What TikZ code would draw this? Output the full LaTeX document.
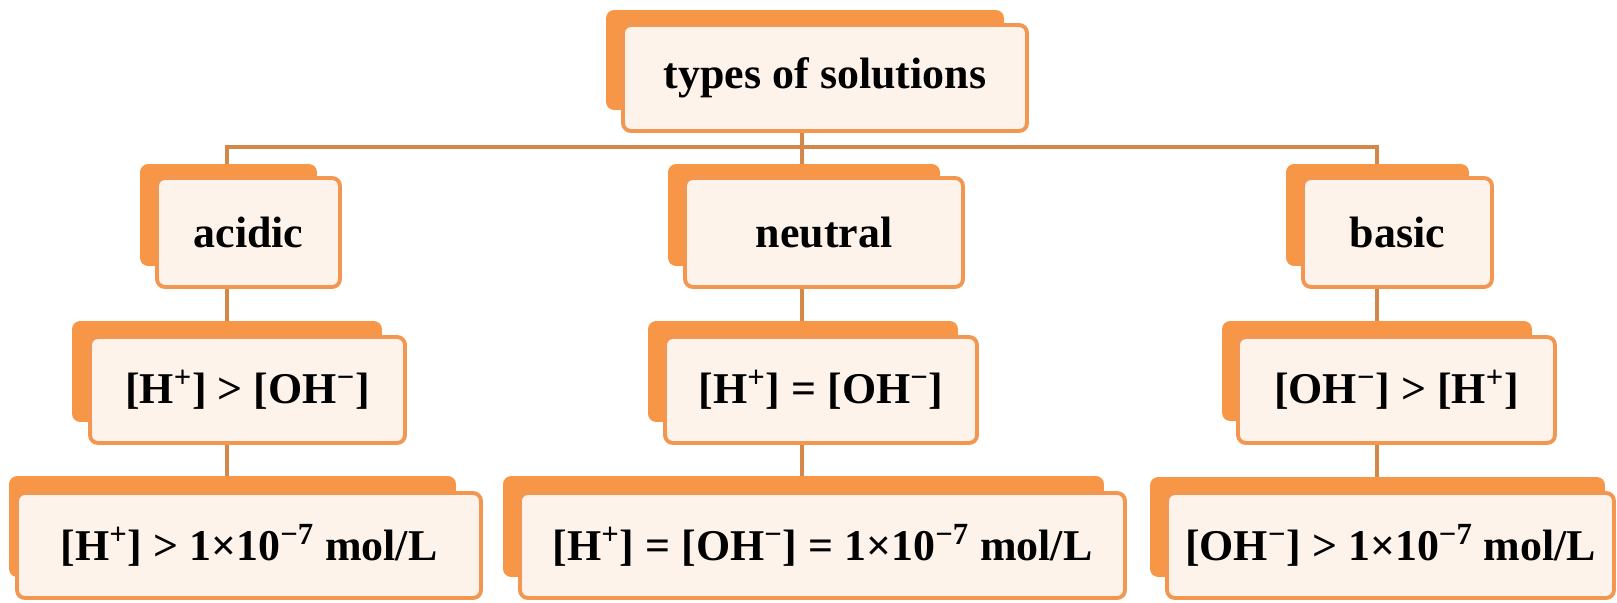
\documentclass[tikz,border=0pt]{standalone}
\usepackage{fontspec}
\setmainfont{Liberation Serif}
\usetikzlibrary{calc,backgrounds}

\pgfdeclarelayer{behind}
\pgfsetlayers{background,behind,main}

\definecolor{backorange}{HTML}{F79646}
\definecolor{frameorange}{HTML}{F29650}
\definecolor{linkorange}{HTML}{D3884A}
\definecolor{cardfill}{HTML}{FDF3EA}

\tikzset{
  card/.style={draw=frameorange, line width=2.2pt, fill=cardfill,
    rounded corners=0.16cm, inner sep=0pt,
    font=\fontsize{25}{30}\selectfont\bfseries},
  backcard/.style={fill=backorange, rounded corners=0.16cm},
  link/.style={draw=linkorange, line width=2.8pt}
}

\begin{document}
\begin{tikzpicture}[
  line cap=round,
  line join=round,
  background rectangle/.style={fill=white},
  show background rectangle,
  inner frame sep=0pt
]
  \useasboundingbox (0,0) rectangle (32.34,-12.04);

  % Опорные точки соединителей
  \coordinate (colL) at (4.54,0);
  \coordinate (colR) at (27.54,0);
  \coordinate (bar) at (16.04,-2.94);

  % Верхний блок
  \node[card, minimum width=8.08cm, minimum height=2.12cm]
    (types) at (16.5,-1.56) {types of solutions};

  % Типы растворов
  \node[card, minimum width=3.66cm, minimum height=2.18cm]
    (acidic) at (4.97,-4.65) {acidic};
  \node[card, minimum width=5.56cm, minimum height=2.18cm]
    (neutral) at (16.48,-4.65) {neutral};
  \node[card, minimum width=3.78cm, minimum height=2.18cm]
    (basic) at (27.95,-4.65) {basic};

  % Сравнение концентраций
  \node[card, minimum width=6.30cm, minimum height=2.12cm]
    (acidicH) at (4.95,-7.8) {[H\textsuperscript{+}] > [OH\textsuperscript{−}]};
  \node[card, minimum width=6.24cm, minimum height=2.12cm]
    (neutralH) at (16.42,-7.8) {[H\textsuperscript{+}] = [OH\textsuperscript{−}]};
  \node[card, minimum width=6.34cm, minimum height=2.12cm]
    (basicH) at (27.93,-7.8) {[OH\textsuperscript{−}] > [H\textsuperscript{+}]};

  % Концентрации в моль/л
  \node[card, minimum width=9.28cm, minimum height=2.1cm]
    (acidicC) at (4.98,-10.91) {[H\textsuperscript{+}] > 1×10\textsuperscript{−7} mol/L};
  \node[card, minimum width=12.1cm, minimum height=2.1cm]
    (neutralC) at (16.45,-10.91) {[H\textsuperscript{+}] = [OH\textsuperscript{−}] = 1×10\textsuperscript{−7} mol/L};
  \node[card, minimum width=8.94cm, minimum height=2.1cm]
    (basicC) at (27.81,-10.91) {[OH\textsuperscript{−}] > 1×10\textsuperscript{−7} mol/L};

  \begin{pgfonlayer}{behind}
    % Соединители
    \draw[link] (types.south -| bar) -- (neutral.north -| bar);
    \draw[link] (acidic.north -| colL) |- (bar) -| (basic.north -| colR);

    \draw[link] (acidic.south -| colL) -- (acidicH.north -| colL);
    \draw[link] (acidicH.south -| colL) -- (acidicC.north -| colL);
    \draw[link] (neutral.south -| bar) -- (neutralH.north -| bar);
    \draw[link] (neutralH.south -| bar) -- (neutralC.north -| bar);
    \draw[link] (basic.south -| colR) -- (basicH.north -| colR);
    \draw[link] (basicH.south -| colR) -- (basicC.north -| colR);

    % Подложки блоков
    \fill[backcard] ($(types.north west)+(-0.3,0.26)$) rectangle ($(types.south east)+(-0.5,0.46)$);
    \fill[backcard] ($(acidic.north west)+(-0.3,0.24)$) rectangle ($(acidic.south east)+(-0.5,0.46)$);
    \fill[backcard] ($(neutral.north west)+(-0.3,0.24)$) rectangle ($(neutral.south east)+(-0.5,0.46)$);
    \fill[backcard] ($(basic.north west)+(-0.3,0.24)$) rectangle ($(basic.south east)+(-0.5,0.46)$);
    \fill[backcard] ($(acidicH.north west)+(-0.32,0.28)$) rectangle ($(acidicH.south east)+(-0.5,0.46)$);
    \fill[backcard] ($(neutralH.north west)+(-0.3,0.28)$) rectangle ($(neutralH.south east)+(-0.42,0.46)$);
    \fill[backcard] ($(basicH.north west)+(-0.28,0.28)$) rectangle ($(basicH.south east)+(-0.5,0.48)$);
    \fill[backcard] ($(acidicC.north west)+(-0.12,0.3)$) rectangle ($(acidicC.south east)+(-0.54,0.46)$);
    \fill[backcard] ($(neutralC.north west)+(-0.3,0.3)$) rectangle ($(neutralC.south east)+(-0.46,0.46)$);
    \fill[backcard] ($(basicC.north west)+(-0.3,0.28)$) rectangle ($(basicC.south east)+(-0.22,0.46)$);
  \end{pgfonlayer}
\end{tikzpicture}
\end{document}
